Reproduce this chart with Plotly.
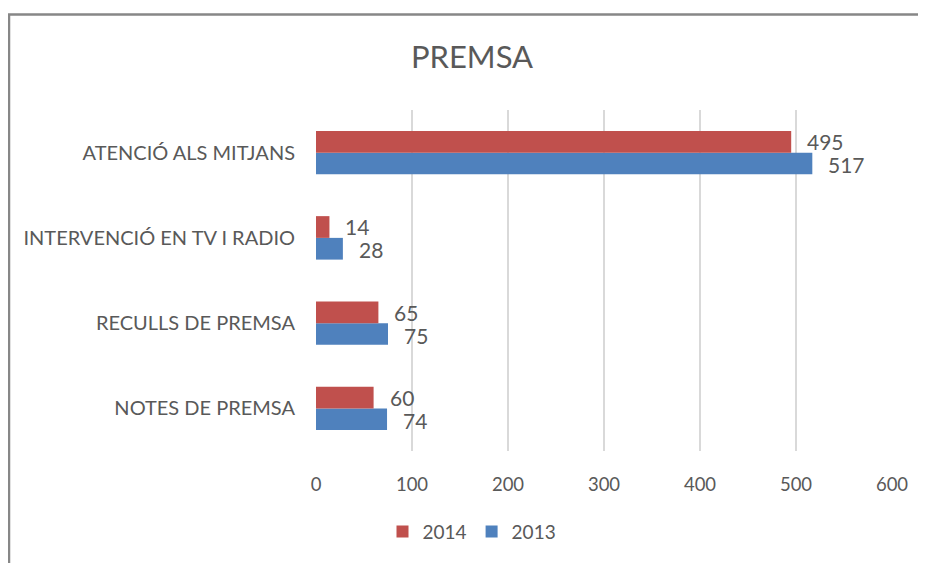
import plotly.graph_objects as go

categories = ["NOTES DE PREMSA", "RECULLS DE PREMSA", "INTERVENCIÓ EN TV I RADIO", "ATENCIÓ ALS MITJANS"]
values_2014 = [60, 65, 14, 495]
values_2013 = [74, 75, 28, 517]
x_ticks = [0, 100, 200, 300, 400, 500, 600]

RED = "#C0504D"
BLUE = "#4F81BD"
TXT = "#595959"
FONT = "Lato, 'Open Sans', sans-serif"

fig = go.Figure()
fig.add_trace(go.Bar(y=categories, x=values_2013, name="2013", orientation="h",
                     marker=dict(color=BLUE, line=dict(width=0))))
fig.add_trace(go.Bar(y=categories, x=values_2014, name="2014", orientation="h",
                     marker=dict(color=RED, line=dict(width=0))))

# data labels
for cat, v in zip(categories, values_2014):
    fig.add_annotation(x=v, y=cat, text=str(v), showarrow=False, xanchor="left",
                       xshift=14, yshift=11, font=dict(size=21, color=TXT, family=FONT))
for cat, v in zip(categories, values_2013):
    fig.add_annotation(x=v, y=cat, text=str(v), showarrow=False, xanchor="left",
                       xshift=14, yshift=-12, font=dict(size=21, color=TXT, family=FONT))

OFF = 8  # page body margin
W, H = 926 - OFF, 563 - OFF
L, T = 316 - OFF, 110 - OFF
pw, ph = 576, 343
R, B = W - L - pw, H - T - ph

def px(x):
    return (x - OFF - L) / pw

def py(y):
    return (H - B - (y - OFF)) / ph

# outer chart border (extends beyond the cropped image)
fig.add_shape(type="path", xref="paper", yref="paper",
              path=f"M {px(9)} {py(600)} L {px(9)} {py(14)} L {px(960)} {py(14)}",
              line=dict(color="#878787", width=2.5))

fig.update_layout(
    width=W, height=H,
    margin=dict(l=L, r=R, t=T, b=B),
    paper_bgcolor="white", plot_bgcolor="white",
    barmode="group", bargap=0.49, bargroupgap=0,
    font=dict(family=FONT, color=TXT),
    title=dict(text="PREMSA", x=(472 - OFF) / W, xanchor="center", y=1 - (57 - OFF) / H,
               yanchor="middle", xref="container", yref="container",
               font=dict(size=31, color=TXT, family=FONT)),
    xaxis=dict(range=[0, 600], tickvals=x_ticks, showgrid=True, gridcolor="#D9D9D9", gridwidth=1.5,
               zeroline=False, showline=False, tickfont=dict(size=18.5, color=TXT),
               ticks="", ticklabelstandoff=20, fixedrange=True),
    yaxis=dict(showgrid=False, zeroline=False, showline=False, ticks="",
               tickfont=dict(size=20, color=TXT), ticklabelstandoff=20,
               range=[-0.5, 3.5]),
    legend=dict(orientation="h", x=px(472), xanchor="center", y=py(534), yanchor="middle",
                traceorder="reversed", font=dict(size=19, color=TXT), itemwidth=30),
    showlegend=True,
)

fig.write_html("out.html")
